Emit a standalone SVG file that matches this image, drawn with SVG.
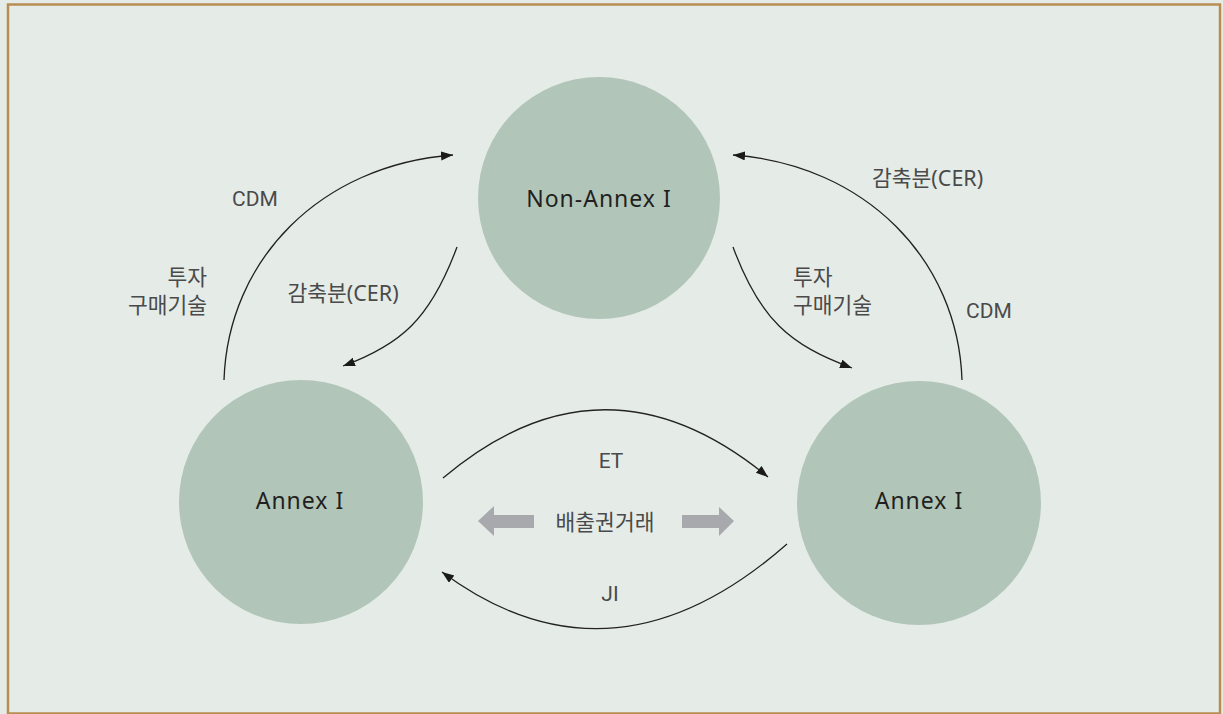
<svg xmlns="http://www.w3.org/2000/svg" width="1223" height="714" viewBox="0 0 1223 714">
  <style>
    .node { fill: #b1c6b9; }
    .ntext { font-family: "Noto Sans", "Noto Sans CJK KR", sans-serif; font-size: 23px; fill: #231f20; letter-spacing: 1px; text-anchor: middle; }
    .lbl { font-family: "Noto Sans", "Noto Sans CJK KR", sans-serif; font-size: 21.5px; fill: #4a4a4a; }
    .lat { font-family: Roboto, "Noto Sans", sans-serif; font-size: 21px; fill: #4a4a4a; }
    .conn { fill: none; stroke: #222; stroke-width: 1.3; marker-end: url(#ah); }
    .big { fill: #a7a9ac; }
  </style>
  <defs>
    <marker id="ah" markerUnits="userSpaceOnUse" markerWidth="13" markerHeight="10" refX="12" refY="4.5" orient="auto" viewBox="0 0 13 10">
      <path d="M0,0 L12,4.5 L0,9 z" fill="#1a1a1a"/>
    </marker>
  </defs>
  <rect x="0" y="0" width="1223" height="714" fill="#e5ece8"/>
  <rect x="8" y="4.5" width="1212" height="709" fill="none" stroke="#b98d52" stroke-width="2.5"/>

  <g id="connectors">
    <path class="conn" d="M224,380 C228,260 320,165 453,155"/>
    <path class="conn" d="M962,380 C958,260 866,165 733,155"/>
    <path class="conn" d="M457,247 C430,320 400,345 343,366"/>
    <path class="conn" d="M733,247 C760,320 790,345 852,368"/>
    <path class="conn" d="M443,478 Q604,342 768,477"/>
    <path class="conn" d="M787,544 Q612,698 442,572"/>
    <polygon class="big" points="478,521 494,506 494,515 534,515 534,528 494,528 494,536"/>
    <polygon class="big" points="734,521 719,507 719,515 682,515 682,528 719,528 719,536"/>
  </g>

  <g id="node-nonannex">
    <circle class="node" cx="599" cy="198" r="121"/>
    <text class="ntext" x="599" y="207">Non-Annex I</text>
  </g>
  <g id="node-annex-left">
    <circle class="node" cx="301" cy="502" r="122"/>
    <text class="ntext" x="300" y="509">Annex I</text>
  </g>
  <g id="node-annex-right">
    <circle class="node" cx="919" cy="503" r="122"/>
    <text class="ntext" x="919" y="509">Annex I</text>
  </g>

  <g id="labels">
    <text class="lat" x="232" y="206">CDM</text>
    <text class="lbl" x="207" y="285" text-anchor="end">투자</text>
    <text class="lbl" x="207" y="313" text-anchor="end">구매기술</text>
    <text class="lbl" x="343" y="301" text-anchor="middle">감축분(CER)</text>
    <text class="lbl" x="872" y="186">감축분(CER)</text>
    <text class="lbl" x="793" y="285">투자</text>
    <text class="lbl" x="793" y="313">구매기술</text>
    <text class="lat" x="966" y="318">CDM</text>
    <text class="lat" x="611" y="468" text-anchor="middle">ET</text>
    <text class="lbl" x="605" y="530" text-anchor="middle">배출권거래</text>
    <text class="lat" x="610" y="601" text-anchor="middle">JI</text>
  </g>
</svg>
